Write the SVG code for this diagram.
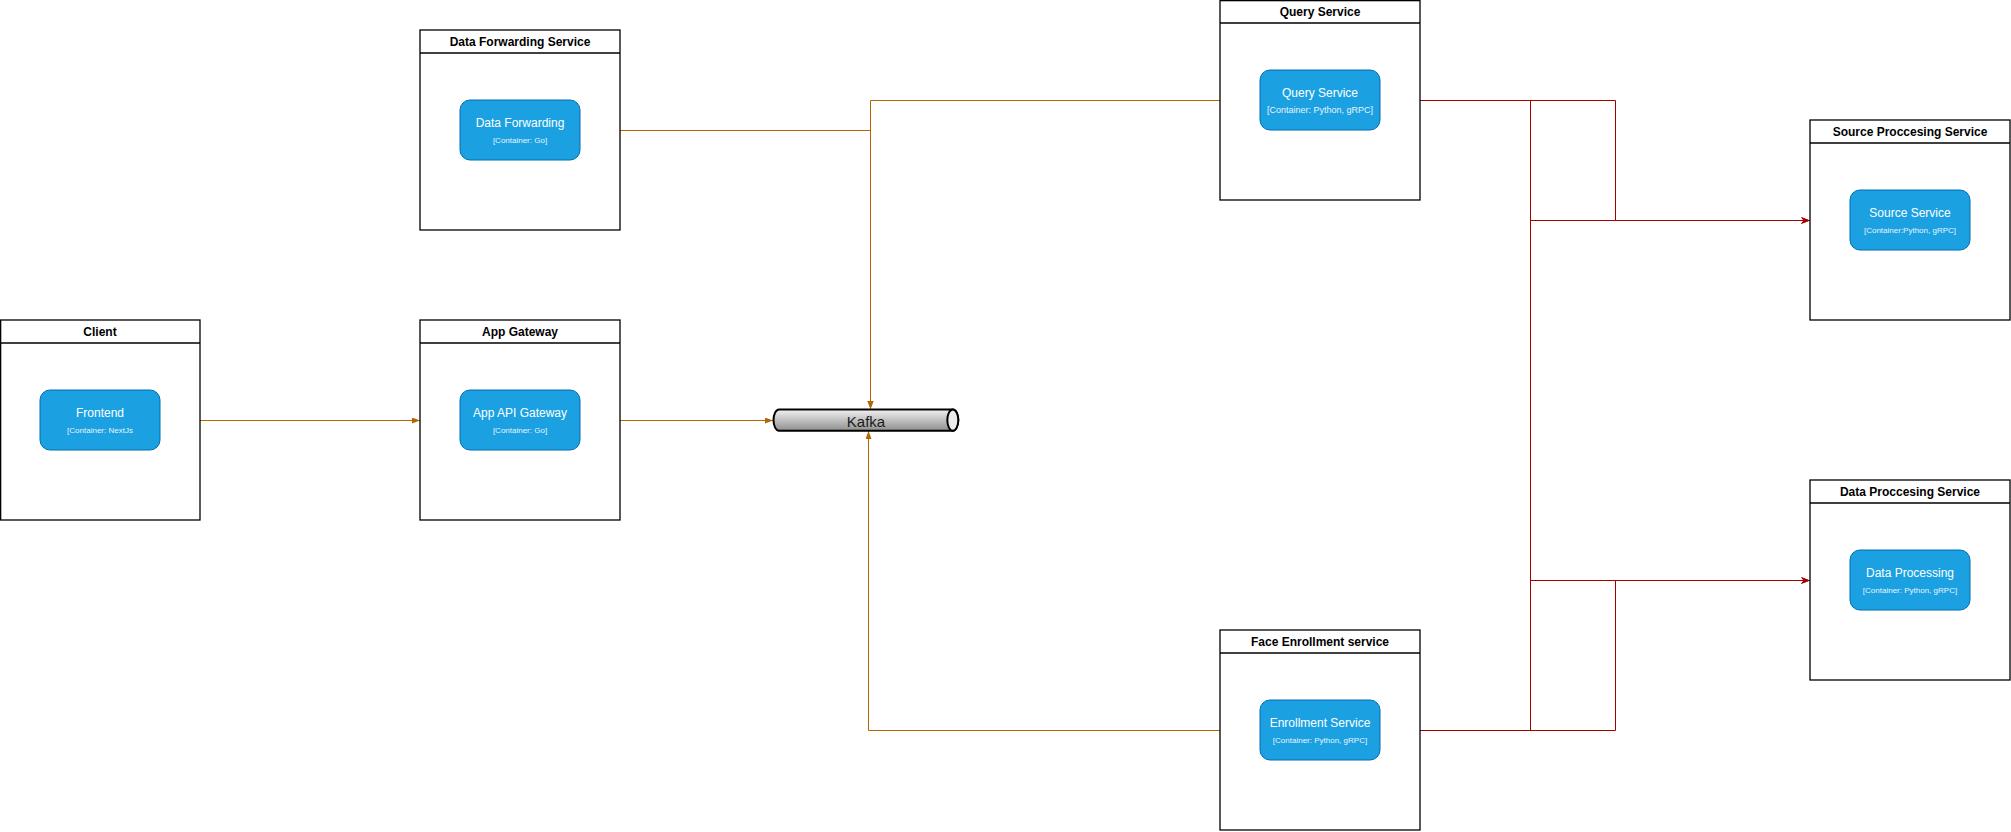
<svg xmlns="http://www.w3.org/2000/svg" width="2011" height="832" viewBox="0 0 2011 832">
<style>
.box{fill:#ffffff;stroke:#000000;stroke-width:1.3}
.hdr{font-family:"Liberation Sans",Arial,sans-serif;font-size:12px;font-weight:bold;fill:#000000;text-anchor:middle}
.inner{fill:#1ba1e2;stroke:#006eaf;stroke-width:1}
.ttl{font-family:"Liberation Sans",Arial,sans-serif;font-size:12px;fill:#ffffff;text-anchor:middle}
.sub{font-family:"Liberation Sans",Arial,sans-serif;font-size:8px;fill:#e8f4fb;text-anchor:middle}
.sub9{font-family:"Liberation Sans",Arial,sans-serif;font-size:9px;fill:#e8f4fb;text-anchor:middle}
.or{fill:none;stroke:#b46504;stroke-width:1}
.rd{fill:none;stroke:#a30000;stroke-width:1}
</style>
<defs>
<marker id="ao" markerUnits="userSpaceOnUse" markerWidth="10" markerHeight="8" refX="8" refY="3" orient="auto">
<path d="M0,0 L8,3 L0,6 Z" fill="#b46504"/>
</marker>
<marker id="ar" markerUnits="userSpaceOnUse" markerWidth="10" markerHeight="8" refX="9" refY="3.5" orient="auto">
<path d="M0,0 L9,3.5 L0,7 L2.5,3.5 Z" fill="#a30000"/>
</marker>
<linearGradient id="pipe" x1="0" y1="0" x2="0" y2="1">
<stop offset="0" stop-color="#f2f2f2"/>
<stop offset="1" stop-color="#8f8f8f"/>
</linearGradient>
</defs>
<rect width="2011" height="832" fill="#ffffff"/>

<g id="connectors">
<path class="or" d="M200,420.5 L420,420.5" marker-end="url(#ao)"/>
<path class="or" d="M620,420.5 L773,420.5" marker-end="url(#ao)"/>
<path class="or" d="M620,130.5 L870.5,130.5 L870.5,409" marker-end="url(#ao)"/>
<path class="or" d="M1220,100.5 L870.5,100.5 L870.5,409" marker-end="url(#ao)"/>
<path class="or" d="M1220,730.5 L868.5,730.5 L868.5,431" marker-end="url(#ao)"/>
<path class="rd" d="M1420,100.5 L1615.5,100.5 L1615.5,220.5 L1810,220.5" marker-end="url(#ar)"/>
<path class="rd" d="M1420,100.5 L1530.5,100.5 L1530.5,580.5 L1810,580.5" marker-end="url(#ar)"/>
<path class="rd" d="M1420,730.5 L1615.5,730.5 L1615.5,580.5 L1810,580.5" marker-end="url(#ar)"/>
<path class="rd" d="M1420,730.5 L1530.5,730.5 L1530.5,220.5 L1810,220.5" marker-end="url(#ar)"/>
</g>

<g id="client">
<rect class="box" x="0.65" y="320" width="199.35" height="200"/>
<line x1="0.65" y1="343" x2="200" y2="343" stroke="#000" stroke-width="1.3"/>
<text class="hdr" x="100" y="335.5">Client</text>
<rect class="inner" x="40" y="390" width="120" height="60" rx="10"/>
<text class="ttl" x="100" y="417">Frontend</text>
<text class="sub" x="100" y="433">[Container: NextJs</text>
</g>

<g id="app-gateway">
<rect class="box" x="420" y="320" width="200" height="200"/>
<line x1="420" y1="343" x2="620" y2="343" stroke="#000" stroke-width="1.3"/>
<text class="hdr" x="520" y="335.5">App Gateway</text>
<rect class="inner" x="460" y="390" width="120" height="60" rx="10"/>
<text class="ttl" x="520" y="417">App API Gateway</text>
<text class="sub" x="520" y="433">[Container: Go]</text>
</g>

<g id="data-forwarding-service">
<rect class="box" x="420" y="30" width="200" height="200"/>
<line x1="420" y1="53" x2="620" y2="53" stroke="#000" stroke-width="1.3"/>
<text class="hdr" x="520" y="45.5">Data Forwarding Service</text>
<rect class="inner" x="460" y="100" width="120" height="60" rx="10"/>
<text class="ttl" x="520" y="127">Data Forwarding</text>
<text class="sub" x="520" y="143">[Container: Go]</text>
</g>

<g id="kafka">
<path d="M779,409.5 L952.8,409.5 A5.5,10.6 0 0 1 952.8,430.7 L779,430.7 A5.5,10.6 0 0 1 779,409.5 Z" fill="url(#pipe)" stroke="#000" stroke-width="2"/>
<ellipse cx="952.8" cy="420.1" rx="5.5" ry="10.6" fill="#ececec" stroke="#000" stroke-width="2"/>
<text x="866" y="426.5" font-family="'Liberation Sans',Arial,sans-serif" font-size="15" fill="#1a1a1a" text-anchor="middle">Kafka</text>
</g>

<g id="query-service">
<rect class="box" x="1220" y="0.65" width="200" height="199.35"/>
<line x1="1220" y1="23" x2="1420" y2="23" stroke="#000" stroke-width="1.3"/>
<text class="hdr" x="1320" y="16">Query Service</text>
<rect class="inner" x="1260" y="70" width="120" height="60" rx="10"/>
<text class="ttl" x="1320" y="97">Query Service</text>
<text class="sub9" x="1320" y="112.5">[Container: Python, gRPC]</text>
</g>

<g id="face-enrollment-service">
<rect class="box" x="1220" y="630" width="200" height="200"/>
<line x1="1220" y1="653" x2="1420" y2="653" stroke="#000" stroke-width="1.3"/>
<text class="hdr" x="1320" y="645.5">Face Enrollment service</text>
<rect class="inner" x="1260" y="700" width="120" height="60" rx="10"/>
<text class="ttl" x="1320" y="727">Enrollment Service</text>
<text class="sub" x="1320" y="743">[Container: Python, gRPC]</text>
</g>

<g id="source-processing-service">
<rect class="box" x="1810" y="120" width="200" height="200"/>
<line x1="1810" y1="143" x2="2010" y2="143" stroke="#000" stroke-width="1.3"/>
<text class="hdr" x="1910" y="135.5">Source Proccesing Service</text>
<rect class="inner" x="1850" y="190" width="120" height="60" rx="10"/>
<text class="ttl" x="1910" y="217">Source Service</text>
<text class="sub" x="1910" y="233">[Container:Python, gRPC]</text>
</g>

<g id="data-processing-service">
<rect class="box" x="1810" y="480" width="200" height="200"/>
<line x1="1810" y1="503" x2="2010" y2="503" stroke="#000" stroke-width="1.3"/>
<text class="hdr" x="1910" y="495.5">Data Proccesing Service</text>
<rect class="inner" x="1850" y="550" width="120" height="60" rx="10"/>
<text class="ttl" x="1910" y="577">Data Processing</text>
<text class="sub" x="1910" y="593">[Container: Python, gRPC]</text>
</g>
</svg>
